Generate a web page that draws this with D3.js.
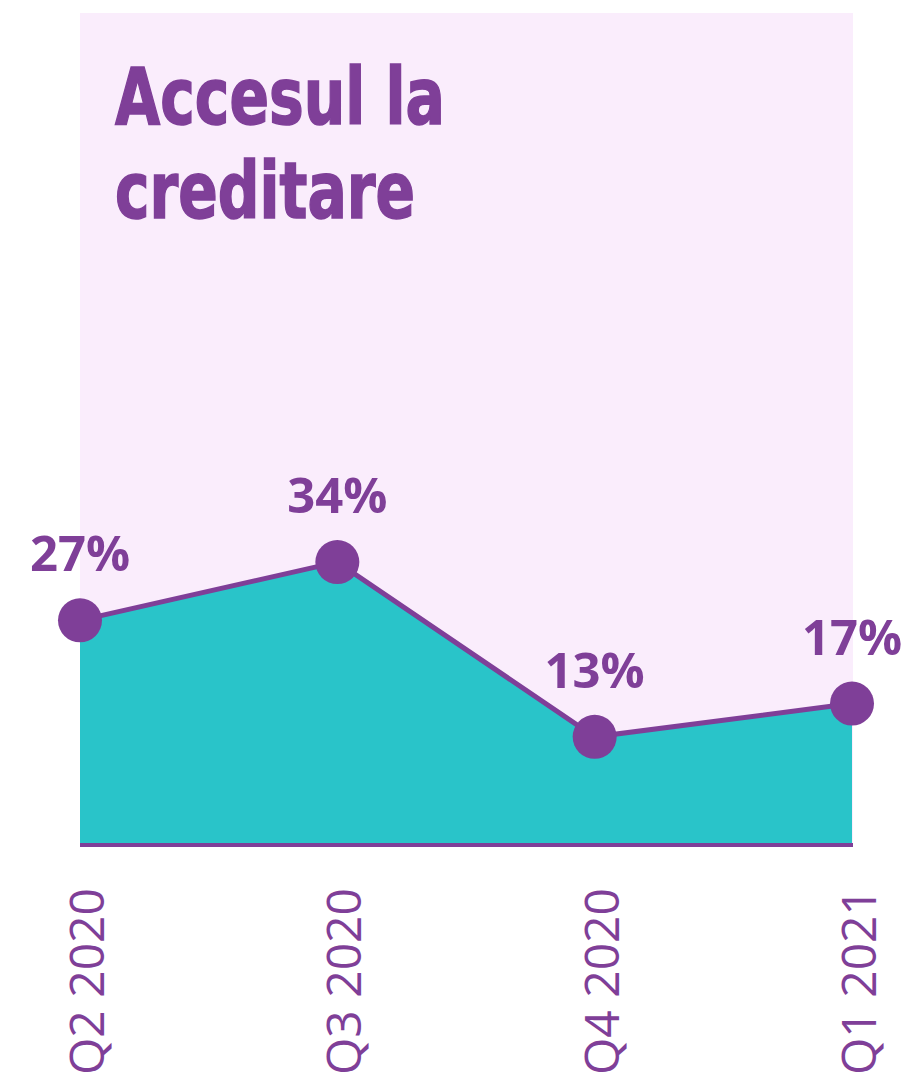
<!DOCTYPE html>
<html>

<head>
  <meta charset="utf-8">
  <script src="https://d3js.org/d3.v7.min.js"></script>
</head>
<style>
  body {
    margin: 0;
    background: #fff;
  }

  svg {
    display: block;
  }

  .title {
    font-family: "Liberation Sans Narrow", "DejaVu Sans Condensed", "Open Sans", sans-serif;
    font-weight: 700;
    font-size: 79px;
    fill: #7f3f98;
    stroke: #7f3f98;
    stroke-width: 1.5px;
  }

  .value-label {
    font-family: "Open Sans", sans-serif;
    font-weight: 700;
    font-size: 49px;
    fill: #7f3f98;
    text-anchor: middle;
  }

  .tick-label {
    font-family: "Open Sans", sans-serif;
    font-weight: 400;
    font-size: 48px;
    fill: #7f3f98;
    text-anchor: end;
  }
</style>

<body>
  <svg id="chart" width="907" height="1079"></svg>
  <script>
    // data
    const quarters = ["Q2 2020", "Q3 2020", "Q4 2020", "Q1 2021"];
    const shares = [27, 34, 13, 17];
    const titleLines = ["Accesul la", "creditare"];

    const purple = "#7f3f98";
    const teal = "#29c4c9";
    const pink = "#faedfc";

    const svg = d3.select("#chart");

    const x = d3.scalePoint()
      .domain(quarters)
      .range([80, 852]);

    const y = d3.scaleLinear()
      .domain([0, 100])
      .range([845, 13]);

    const data = quarters.map((q, i) => ({ q: q, v: shares[i] }));

    // pink panel = full 0..100 range
    svg.append("rect")
      .attr("x", x.range()[0])
      .attr("y", y(100))
      .attr("width", x.range()[1] - x.range()[0] + 1)
      .attr("height", y(0) - y(100))
      .attr("fill", pink);

    // title
    const titleWidths = [330, 300];
    titleLines.forEach((t, i) => {
      svg.append("text")
        .attr("class", "title")
        .attr("x", 115)
        .attr("y", 124 + i * 94)
        .attr("textLength", titleWidths[i])
        .attr("lengthAdjust", "spacingAndGlyphs")
        .text(t);
    });

    // area
    const area = d3.area()
      .x(d => x(d.q))
      .y0(y(0))
      .y1(d => y(d.v));

    svg.append("path")
      .datum(data)
      .attr("d", area)
      .attr("fill", teal);

    // baseline
    svg.append("line")
      .attr("x1", x.range()[0])
      .attr("x2", x.range()[1] + 1)
      .attr("y1", y(0))
      .attr("y2", y(0))
      .attr("stroke", purple)
      .attr("stroke-width", 4);

    // line
    const line = d3.line()
      .x(d => x(d.q))
      .y(d => y(d.v));

    svg.append("path")
      .datum(data)
      .attr("d", line)
      .attr("fill", "none")
      .attr("stroke", purple)
      .attr("stroke-width", 5);

    // markers
    svg.selectAll(".dot")
      .data(data)
      .join("circle")
      .attr("class", "dot")
      .attr("cx", d => x(d.q))
      .attr("cy", d => y(d.v))
      .attr("r", 22)
      .attr("fill", purple);

    // value labels
    svg.selectAll(".value-label")
      .data(data)
      .join("text")
      .attr("class", "value-label")
      .attr("x", d => x(d.q))
      .attr("y", d => y(d.v) - 49)
      .text(d => d.v + "%");

    // x labels, rotated
    svg.selectAll(".tick-label")
      .data(quarters)
      .join("text")
      .attr("class", "tick-label")
      .attr("transform", d => `translate(${x(d) + 24},888) rotate(-90)`)
      .text(d => d);
  </script>
</body>

</html>
